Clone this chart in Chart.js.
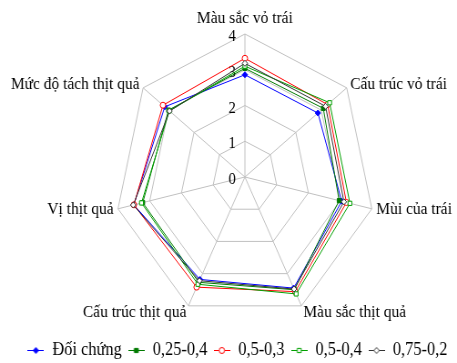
<!DOCTYPE html>
<html>
<head>
<meta charset="utf-8">
<script src="https://cdn.jsdelivr.net/npm/chart.js@4/dist/chart.umd.min.js"></script>
<style>
  html, body { margin: 0; padding: 0; background: #fff; overflow: hidden; }
  #wrap { position: absolute; left: 0; top: 0; width: 502px; height: 363px;
          transform: scaleX(0.9104); transform-origin: 0 0; }
  canvas { display: block; }
</style>
</head>
<body>
<div id="wrap"><canvas id="c" width="502" height="363"></canvas></div>
<script>
// Sensory attributes (clockwise from the top)
const categories = [
  'Màu sắc vỏ trái', 'Cấu trúc vỏ trái', 'Mùi của trái', 'Màu sắc thịt quả',
  'Cấu trúc thịt quả', 'Vị thịt quả', 'Mức độ tách thịt quả'
];
const tickLabels = ['0', '1', '2', '3', '4'];
const seriesNames = ['Đối chứng', '0,25-0,4', '0,5-0,3', '0,5-0,4', '0,75-0,2'];

// Scores per treatment
const doiChung = [2.86, 2.87, 3.05, 3.45, 3.18, 3.50, 3.15];
const t025_04  = [3.04, 3.08, 2.97, 3.50, 3.27, 3.22, 3.00];
const t05_03   = [3.32, 3.25, 3.20, 3.56, 3.42, 3.50, 3.22];
const t05_04   = [3.10, 3.33, 3.31, 3.63, 3.33, 3.26, 2.97];
const t075_02  = [3.18, 3.17, 3.12, 3.48, 3.22, 3.52, 2.96];

// Styling
const FONT = 'Liberation Serif';
const GRID = '#c0c0c0';
const styles = [
  { color: '#0000ff', shape: 'rectRot', fill: true  },
  { color: '#007a00', shape: 'rect',    fill: true  },
  { color: '#ff0000', shape: 'circle',  fill: false },
  { color: '#00a000', shape: 'rect',    fill: false },
  { color: '#333333', shape: 'rectRot', fill: false }
];
const seriesValues = [doiChung, t025_04, t05_03, t05_04, t075_02];

// Radar geometry
const CENTER_X = 269;
const CENTER_Y = 177;
const RADIUS = 143;
// per-label line heights to set the vertical anchoring of each axis title
const LABEL_LH = [1.2, 0.01, 0.01, 0.25, 0.25, 0.01, 0.01];
// horizontal nudge of the legend row
const LEGEND_SHIFT = 6;

function legendIcon(st) {
  const cv = document.createElement('canvas');
  cv.width = 18; cv.height = 10;
  const g = cv.getContext('2d');
  g.strokeStyle = st.color;
  g.lineWidth = 1;
  g.beginPath(); g.moveTo(0, 5.5); g.lineTo(18, 5.5); g.stroke();
  g.fillStyle = st.fill ? st.color : '#ffffff';
  Chart.helpers.drawPoint(g, { radius: 3, pointStyle: st.shape, rotation: 0, borderWidth: 1 }, 9, 5.5);
  return cv;
}

const datasets = seriesNames.map((name, i) => ({
  label: name,
  data: seriesValues[i],
  borderColor: styles[i].color,
  borderWidth: 1,
  backgroundColor: 'transparent',
  fill: false,
  pointStyle: styles[i].shape,
  pointRadius: 3,
  pointBorderWidth: 1,
  pointBorderColor: styles[i].color,
  pointBackgroundColor: styles[i].fill ? styles[i].color : '#ffffff',
  order: seriesNames.length - i
}));

const tickText = {
  id: 'tickText',
  afterLayout(chart) {
    if (chart.legend) {
      chart.legend.left += LEGEND_SHIFT;
      chart.legend.right += LEGEND_SHIFT;
    }
  },
  beforeDatasetsDraw(chart) {
    const s = chart.scales.r;
    const ctx = chart.ctx;
    ctx.save();
    ctx.font = '16px "' + FONT + '"';
    ctx.fillStyle = '#000';
    ctx.textAlign = 'center';
    ctx.textBaseline = 'middle';
    tickLabels.forEach((t) => {
      const d = s.getDistanceFromCenterForValue(Number(t));
      const p = s.getPointPosition(0, d);
      ctx.fillText(t, p.x - 14, p.y + 3);
    });
    ctx.restore();
  }
};

new Chart(document.getElementById('c'), {
  type: 'radar',
  data: { labels: categories, datasets },
  plugins: [tickText],
  options: {
    responsive: false,
    devicePixelRatio: 1,
    animation: false,
    events: [],
    layout: { padding: { left: 8, right: 0, top: 0, bottom: -6 } },
    elements: { line: { tension: 0 } },
    scales: {
      r: {
        min: 0, max: 4,
        ticks: { stepSize: 1, display: false },
        grid: { color: GRID, lineWidth: 1 },
        angleLines: { color: GRID, lineWidth: 1 },
        pointLabels: {
          color: '#000',
          padding: 5,
          font: (ctx) => ({ family: FONT, size: 17, lineHeight: LABEL_LH[ctx.index] })
        },
        afterSetDimensions(scale) {
          scale.xCenter = CENTER_X;
          scale.yCenter = CENTER_Y;
          scale.drawingArea = RADIUS;
        }
      }
    },
    plugins: {
      tooltip: { enabled: false },
      legend: {
        position: 'bottom',
        labels: {
          font: { family: FONT, size: 18 },
          color: '#000',
          padding: 7,
          usePointStyle: true,
          pointStyleWidth: 18,
          boxHeight: 10,
          generateLabels: () => seriesNames.map((name, i) => ({
            text: name,
            pointStyle: legendIcon(styles[i]),
            fillStyle: styles[i].color,
            strokeStyle: styles[i].color,
            lineWidth: 0,
            hidden: false,
            datasetIndex: i
          }))
        }
      }
    }
  }
});
</script>
</body>
</html>
